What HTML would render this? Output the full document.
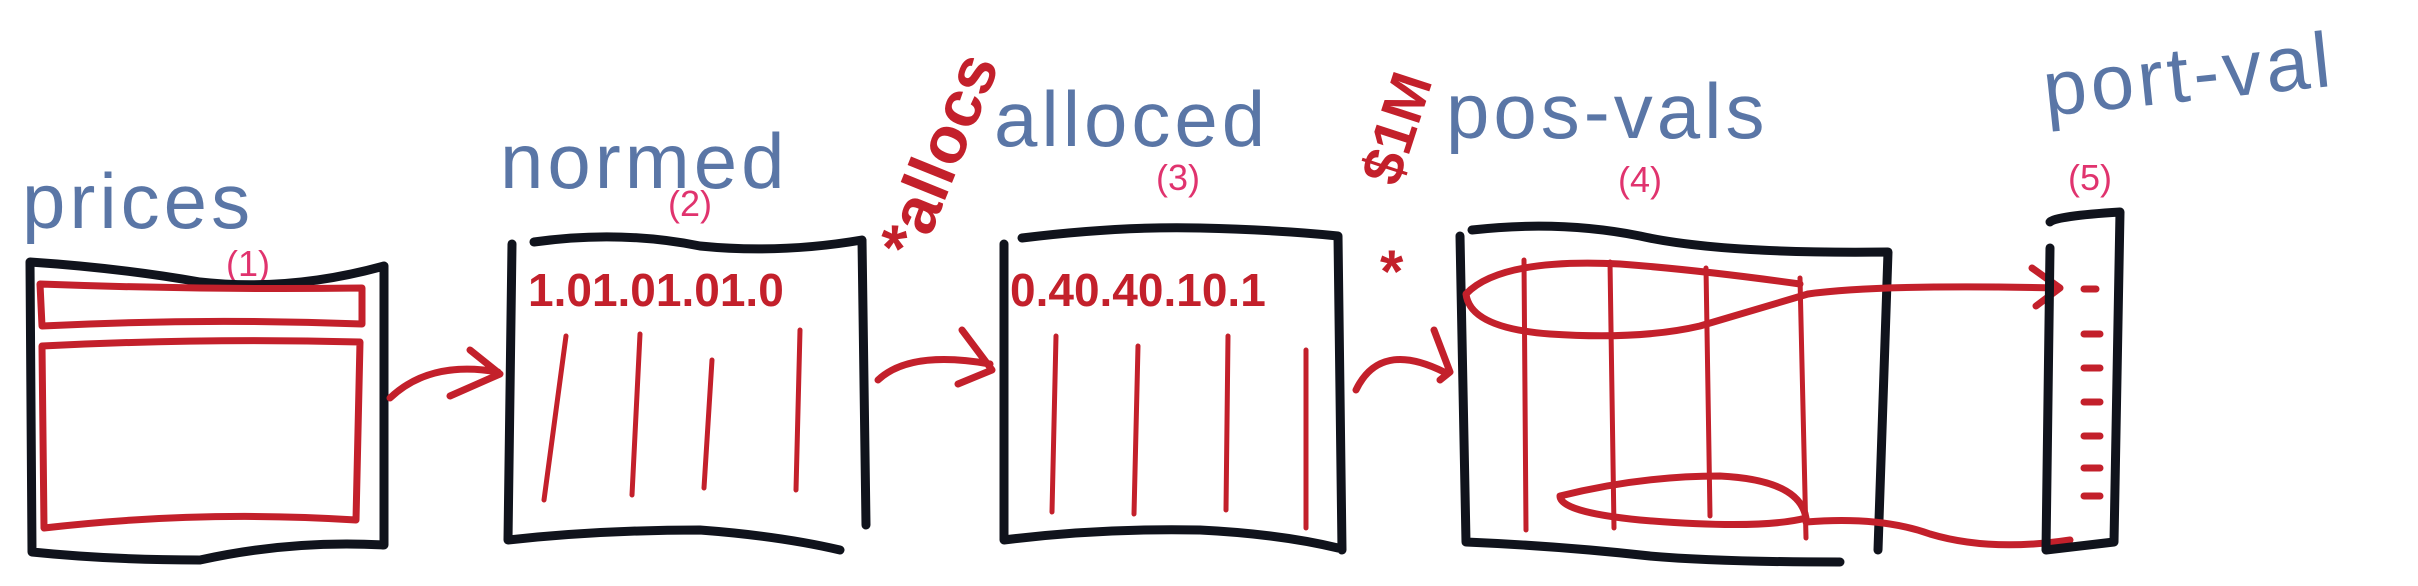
<!DOCTYPE html>
<html><head><meta charset="utf-8"><style>
html,body{margin:0;padding:0;background:#fff;width:2418px;height:586px;overflow:hidden}
svg{display:block}
.lbl{font-family:"Liberation Sans",sans-serif;fill:#5a76a6;font-size:78px;letter-spacing:4px}
.num{font-family:"Liberation Sans",sans-serif;fill:#e0336e;font-size:36px}
.rt{font-family:"Liberation Sans",sans-serif;fill:#c3202b;font-weight:bold}
.bk{fill:none;stroke:#10131c;stroke-width:9;stroke-linecap:round;stroke-linejoin:round}
.rd{fill:none;stroke:#c3202b;stroke-width:7;stroke-linecap:round;stroke-linejoin:round}
.rd5{fill:none;stroke:#c3202b;stroke-width:5;stroke-linecap:round}
</style></head><body>
<svg width="2418" height="586" viewBox="0 0 2418 586">
<g>
<text class="lbl" x="22" y="228">prices</text>
<text class="num" x="226" y="276">(1)</text>
<path class="bk" d="M30 262 Q120 268 200 282 Q290 292 384 266 L384 545 Q290 540 200 560 Q110 560 32 552 Z"/>
<path class="rd" d="M40 284 Q200 290 362 288 L362 324 Q200 318 42 326 Z"/>
<path class="rd" d="M42 346 Q200 338 360 342 L356 520 Q200 510 44 528 Z"/>
</g>
<path class="rd" d="M390 398 Q430 360 498 372 M470 350 L500 374 L450 396"/>
<g>
<text class="lbl" x="500" y="188">normed</text>
<text class="num" x="668" y="216">(2)</text>
<path class="bk" d="M534 242 Q620 230 700 246 Q780 254 862 240 L866 525 M512 244 L508 540 Q600 530 700 530 Q780 536 840 550"/>
<text class="rt" x="528" y="306" font-size="46">1.01.01.01.0</text>
<path class="rd5" d="M566 336 L544 500 M640 334 L632 495 M712 360 L704 488 M800 330 L796 490"/>
</g>
<text class="rt" font-size="66" transform="translate(920 262) rotate(-68)">*allocs</text>
<path class="rd" d="M878 380 Q910 350 990 364 M962 330 L992 370 L958 384"/>
<g>
<text class="lbl" x="994" y="146">alloced</text>
<text class="num" x="1156" y="190">(3)</text>
<path class="bk" d="M1022 238 Q1120 226 1200 228 Q1280 230 1338 236 L1342 550 M1004 244 L1004 540 Q1100 528 1200 530 Q1280 534 1338 548"/>
<text class="rt" x="1010" y="306" font-size="46">0.40.40.10.1</text>
<path class="rd5" d="M1056 336 L1052 512 M1138 346 L1134 514 M1228 336 L1226 510 M1306 350 L1306 528"/>
</g>
<text class="rt" font-size="58" transform="translate(1398 188) rotate(-72)">$1M</text>
<text class="rt" font-size="60" x="1380" y="292">*</text>
<path class="rd" d="M1356 390 Q1380 340 1444 372 M1434 330 L1450 372 L1440 380"/>
<g>
<text class="lbl" x="1446" y="138">pos-vals</text>
<text class="num" x="1618" y="192">(4)</text>
<path class="bk" d="M1472 230 Q1560 220 1640 236 Q1720 254 1888 252 L1878 550 M1460 236 L1466 542 Q1560 546 1650 556 Q1720 562 1840 562"/>
<path class="rd5" d="M1524 260 L1526 530 M1610 262 L1614 528 M1706 268 L1710 516 M1800 278 L1806 538"/>
<path class="rd" d="M1800 284 Q1700 270 1620 264 Q1500 258 1466 294 Q1470 328 1550 334 Q1640 340 1700 326 Q1760 308 1808 294"/>
<path class="rd" d="M1808 294 Q1880 284 2060 288 M2032 268 L2060 288 L2036 306"/>
<path class="rd" d="M1560 496 Q1640 476 1720 476 Q1800 480 1806 518 Q1760 530 1640 520 Q1560 512 1560 496 Z"/>
<path class="rd" d="M1806 522 Q1880 516 1930 534 Q1990 552 2070 540"/>
</g>
<g>
<text class="lbl" x="2046" y="116" transform="rotate(-6 2046 116)">port-val</text>
<text class="num" x="2068" y="190">(5)</text>
<path class="bk" d="M2050 222 Q2056 216 2120 212 L2114 542 Q2080 546 2046 550 L2050 248"/>
<path class="rd" stroke-width="9" d="M2084 289 L2096 289 M2084 334 L2100 334 M2084 368 L2100 368 M2084 402 L2100 402 M2084 436 L2100 436 M2084 468 L2100 468 M2084 496 L2100 496"/>
</g>
</svg>
</body></html>
